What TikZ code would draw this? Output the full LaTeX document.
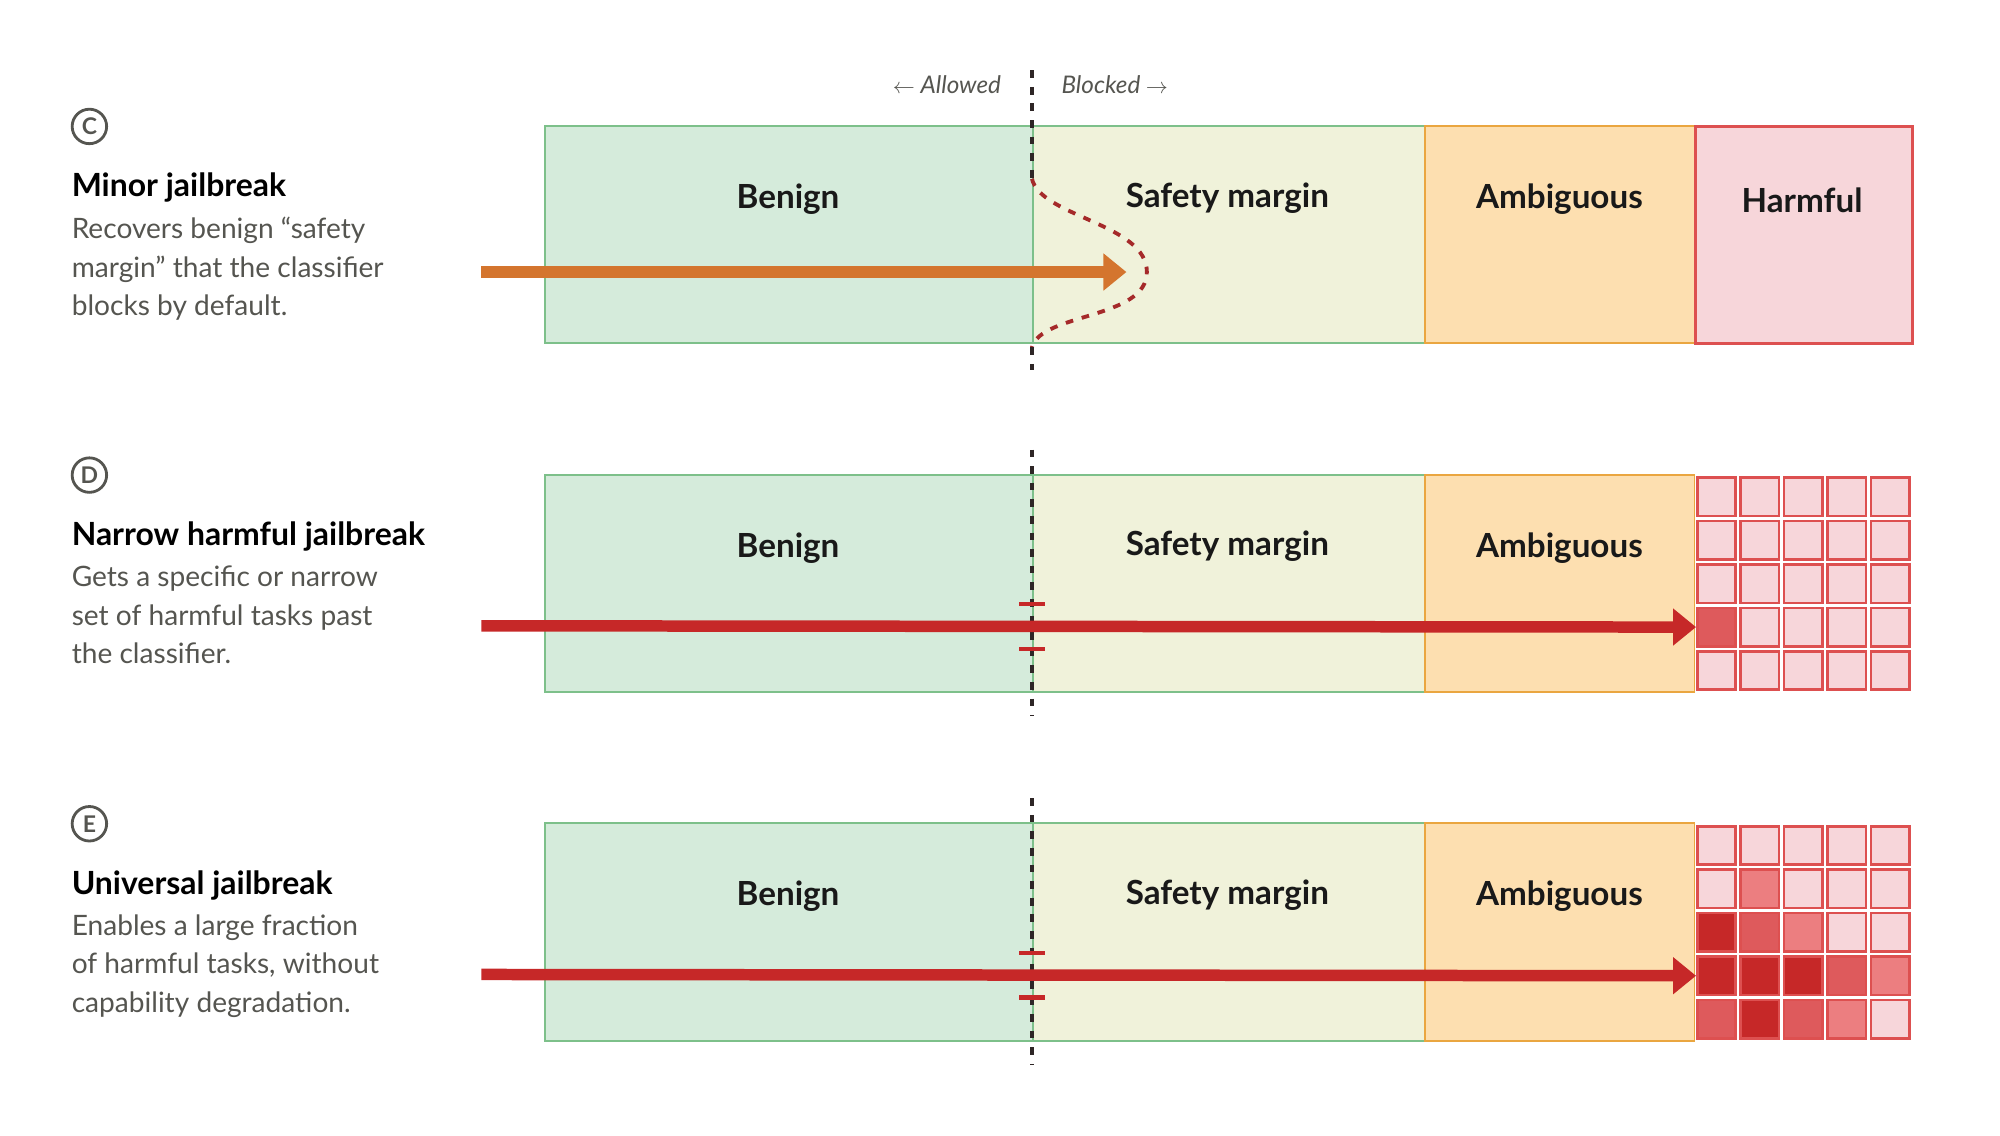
\documentclass[tikz,border=0pt]{standalone}
\usepackage{fontspec}
\setmainfont{Lato}
\usetikzlibrary{arrows.meta,calc}
\definecolor{bg}{HTML}{D5EBDB}\definecolor{bgb}{HTML}{7DC08A}
\definecolor{sm}{HTML}{F0F2DA}
\definecolor{am}{HTML}{FDDFB0}\definecolor{amb}{HTML}{EAA640}
\definecolor{hm}{HTML}{F7D6DA}\definecolor{hmb}{HTML}{DD5050}
\definecolor{l1}{HTML}{EC7E80}\definecolor{l2}{HTML}{DE5A5C}\definecolor{l3}{HTML}{C62828}
\definecolor{orng}{HTML}{D4752E}\definecolor{rd}{HTML}{C62828}
\definecolor{txt}{HTML}{555550}\definecolor{dk}{HTML}{2E2626}\definecolor{curve}{HTML}{A52A2A}
\tikzset{
 zone/.style={draw=#1, line width=1.5pt, minimum height=170pt, inner sep=0pt, anchor=north west},
 lab/.style={font=\fontsize{26}{30}\selectfont\bfseries, text=black!90},
 ttl/.style={font=\fontsize{25}{28}\selectfont\bfseries, anchor=base west, inner sep=0pt},
 dsc/.style={font=\fontsize{22}{30}\selectfont, text=txt, anchor=north west, align=left, inner sep=0pt},
 circ/.style={circle, draw=txt, line width=2.2pt, minimum size=27pt, inner sep=0pt, text=txt, font=\fontsize{18}{18}\selectfont\bfseries},
 thr/.style={dk, line width=3pt, dash pattern=on 6pt off 7pt},
 arr/.style={line width=9pt, -{Triangle[length=18pt,width=28pt]}},
 tick/.style={rd, line width=3.5pt},
 cell/.style={draw=hmb, line width=2pt, minimum size=30pt, inner sep=0pt, anchor=north west},
}
\begin{document}
\begin{tikzpicture}[x=1pt,y=-1pt]
\useasboundingbox (0,0) rectangle (1566,889);
% header
\node[font=\fontsize{19}{20}\selectfont\itshape, text=txt, anchor=east, inner sep=0pt] (allowed) at (784,66) {$\leftarrow$ Allowed};
\node[font=\fontsize{19}{20}\selectfont\itshape, text=txt, anchor=west, inner sep=0pt] (blocked) at (831,66) {Blocked $\rightarrow$};

\foreach \r/\t/\L in {C/98/C, D/371/D, E/644/E}{
  \node[zone=bgb, fill=bg, minimum width=382pt] (ben\r) at (426,\t) {};
  \node[zone=bgb, fill=sm, minimum width=307pt] (saf\r) at (808,\t) {};
  \node[zone=amb, fill=am, minimum width=211pt] (amb\r) at (1115,\t) {};
  \node[lab] (benl\r) at (617,\t+58) {Benign};
  \node[lab] (safl\r) at (961,\t+57) {Safety margin};
  \node[lab] (ambl\r) at (1221,\t+58) {Ambiguous};
  \node[circ] (circ\r) at (70,\t+1) {\L};
}
% Row C
\node[zone=hmb, fill=hm, minimum width=170pt, line width=2.5pt] (harmC) at (1326,98) {};
\node[lab] (harmlC) at (1411,157) {Harmful};
\node[ttl] (tC) at (56,154) {Minor jailbreak};
\node[dsc] (dC) at (56,170) {Recovers benign “safety\\margin” that the classifier\\blocks by default.};
\coordinate (sC) at (377,213);
\draw[arr, orng] (sC) -- (882,213);
\coordinate (c0) at (808,55); \coordinate (c1) at (808,140); \coordinate (c2) at (898,213);
\coordinate (c3) at (808,272); \coordinate (c4) at (808,290);
\draw[thr] (c0) -- (c1);
\draw[curve, line width=3pt, dash pattern=on 6pt off 7pt] (c1) .. controls (815,170) and (898,175) .. (c2) .. controls (898,250) and (815,245) .. (c3);
\draw[thr] (c3) -- (c4);

% Row D
\node[ttl] (tD) at (56,427) {Narrow harmful jailbreak};
\node[dsc] (dD) at (56,443) {Gets a specific or narrow\\set of harmful tasks past\\the classifier.};
% Row E
\node[ttl] (tE) at (56,700) {Universal jailbreak};
\node[dsc] (dE) at (56,716) {Enables a large fraction\\of harmful tasks, without\\capability degradation.};

% grids
\foreach \rr/\t/\lv in {D/371/{0,0,0,0,0, 0,0,0,0,0, 0,0,0,0,0, 2,0,0,0,0, 0,0,0,0,0},
                     E/644/{0,0,0,0,0, 0,1,0,0,0, 3,2,1,0,0, 3,3,3,2,1, 2,3,2,1,0}}{
  \foreach \v [count=\i from 0] in \lv {
    \pgfmathtruncatemacro{\row}{\i/5}
    \pgfmathtruncatemacro{\col}{\i-5*\row}
    \ifcase\v \def\fc{hm}\or\def\fc{l1}\or\def\fc{l2}\else\def\fc{l3}\fi
    \node[cell, fill=\fc] (g\rr\row\col) at (1328+34*\col, \t+2+34*\row) {};
  }
}
\foreach \r/\t in {D/371, E/644}{
  \coordinate (top\r) at (808,\t-19);
  \coordinate (bot\r) at (808,\t+190);
  \draw[thr] (top\r) -- (bot\r);
  \coordinate (s\r) at (377,\t+119);
  \draw[tick] (798,\t+102) -- (818,\t+102);
  \draw[tick] (798,\t+137) -- (818,\t+137);
  \draw[arr, rd] (s\r) -- (g\r30.west);
}
\end{tikzpicture}
\end{document}
